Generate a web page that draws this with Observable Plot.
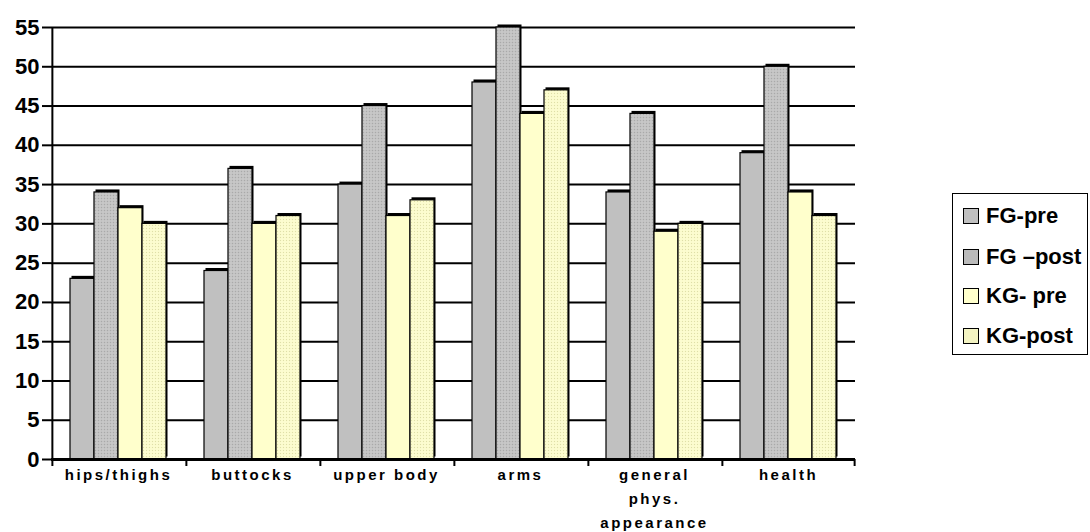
<!DOCTYPE html>
<html>
<head>
<meta charset="utf-8">
<script src="https://cdn.jsdelivr.net/npm/d3@7"></script>
<script src="https://cdn.jsdelivr.net/npm/@observablehq/plot@0.6"></script>
<style>
  html, body { margin: 0; padding: 0; background: #fff; }
  #wrap { position: relative; width: 1090px; height: 532px; font-family: "Liberation Sans", Arial, sans-serif; }
  #legend { position: absolute; left: 952px; top: 193px; width: 134px; height: 160px; border: 1px solid #000; background: #fff; box-sizing: content-box; }
  .item { position: absolute; left: 10px; display: flex; align-items: center; font-weight: bold; font-size: 22px; color: #000; white-space: nowrap; }
  .sw { width: 14px; height: 14px; border: 1px solid #000; margin-right: 7px; flex: none; }
  svg g[aria-label="fx-axis tick label"] text { letter-spacing: 2.5px; }
</style>
</head>
<body>
<div id="wrap"></div>
<script>
const categories = ["hips/thighs", "buttocks", "upper body", "arms", "general\nphys.\nappearance", "health"];
const series = ["FG-pre", "FG \u2013post", "KG- pre", "KG-post"];
const fgPre  = [23, 24, 35, 48, 34, 39];
const fgPost = [34, 37, 45, 55, 44, 50];
const kgPre  = [32, 30, 31, 44, 29, 34];
const kgPost = [30, 31, 33, 47, 30, 31];
const yTicks = [0, 5, 10, 15, 20, 25, 30, 35, 40, 45, 50, 55];

const seriesValues = [fgPre, fgPost, kgPre, kgPost];
const fills = ["#c0c0c0", "url(#pFgPost)", "#ffffcc", "url(#pKgPost)"];
const legendFills = ["#c0c0c0", "#bababa", "#ffffcc", "#f3f3c2"];

const data = [];
categories.forEach((c, i) => {
  series.forEach((s, j) => data.push({category: c, series: s, value: seriesValues[j][i]}));
});

const W = 1090, H = 532, ML = 49, MR = 234, MT = 27, MB = 73;
const outerPad = 0.717;
const facetStep = (W - ML - MR) / categories.length;
const innerStep = facetStep / (series.length + 2 * outerPad);
const edgeOffset = outerPad * innerStep + innerStep / 2;

const chart = Plot.plot({
  width: W, height: H,
  marginLeft: ML, marginRight: MR, marginTop: MT, marginBottom: MB,
  style: {fontFamily: "'Liberation Sans', Arial, sans-serif", background: "white", color: "black"},
  fx: {domain: categories, padding: 0, label: null},
  x: {domain: series, paddingInner: 0, paddingOuter: outerPad, axis: null},
  y: {domain: [0, 55], axis: null, label: null},
  color: {domain: series, range: fills},
  marks: [
    Plot.gridY(yTicks.slice(1), {stroke: "black", strokeOpacity: 1, strokeWidth: 2}),
    Plot.barY(data, {fx: "category", x: "series", y: "value", fill: "black", dx: 1.5, dy: -2.5}),
    Plot.barY(data, {fx: "category", x: "series", y: "value", fill: "series", stroke: "black", strokeWidth: 1.2}),
    Plot.ruleY([0], {stroke: "black", strokeWidth: 3}),
    Plot.ruleX(categories, {fx: d => d, x: () => series[0], y1: 0, y2: 0, insetBottom: -7, dx: -edgeOffset, stroke: "black", strokeWidth: 2}),
    Plot.ruleX([categories[categories.length - 1]], {fx: d => d, x: () => series[series.length - 1], y1: 0, y2: 0, insetBottom: -7, dx: edgeOffset, stroke: "black", strokeWidth: 2}),
    Plot.ruleX([categories[0]], {fx: d => d, x: () => series[0], y1: 0, y2: 55, dx: -edgeOffset, stroke: "black", strokeWidth: 2}),
    Plot.axisY({ticks: yTicks, tickSize: 9, tickPadding: 3, fontSize: 22, fontWeight: "bold", strokeWidth: 2, tickFormat: d => d, label: null}),
    Plot.axisFx({anchor: "bottom", tickSize: 0, tickPadding: 3, fontSize: 15, fontWeight: "bold", lineHeight: 1.6, label: null})
  ]
});

const defs = document.createElementNS("http://www.w3.org/2000/svg", "defs");
defs.innerHTML = `
  <pattern id="pFgPost" width="3" height="3" patternUnits="userSpaceOnUse">
    <rect width="3" height="3" fill="#c2c2c2"></rect>
    <rect x="0" y="0" width="1" height="1" fill="#a9a9a9"></rect>
    <rect x="1.5" y="1.5" width="1" height="1" fill="#d6d6d6"></rect>
  </pattern>
  <pattern id="pKgPost" width="3" height="3" patternUnits="userSpaceOnUse">
    <rect width="3" height="3" fill="#fbfbcb"></rect>
    <rect x="0" y="0" width="1" height="1" fill="#dedeaa"></rect>
    <rect x="1.5" y="1.5" width="1" height="1" fill="#ffffe0"></rect>
  </pattern>`;
chart.insertBefore(defs, chart.firstChild);

const wrap = document.getElementById("wrap");
wrap.appendChild(chart);

const legend = document.createElement("div");
legend.id = "legend";
const rowTops = [22, 63, 102, 142];
series.forEach((s, j) => {
  const it = document.createElement("div");
  it.className = "item";
  it.style.top = (rowTops[j] - 13) + "px";
  const sw = document.createElement("span");
  sw.className = "sw";
  sw.style.background = legendFills[j];
  const tx = document.createElement("span");
  tx.textContent = s;
  it.appendChild(sw); it.appendChild(tx);
  legend.appendChild(it);
});
wrap.appendChild(legend);
</script>
</body>
</html>
